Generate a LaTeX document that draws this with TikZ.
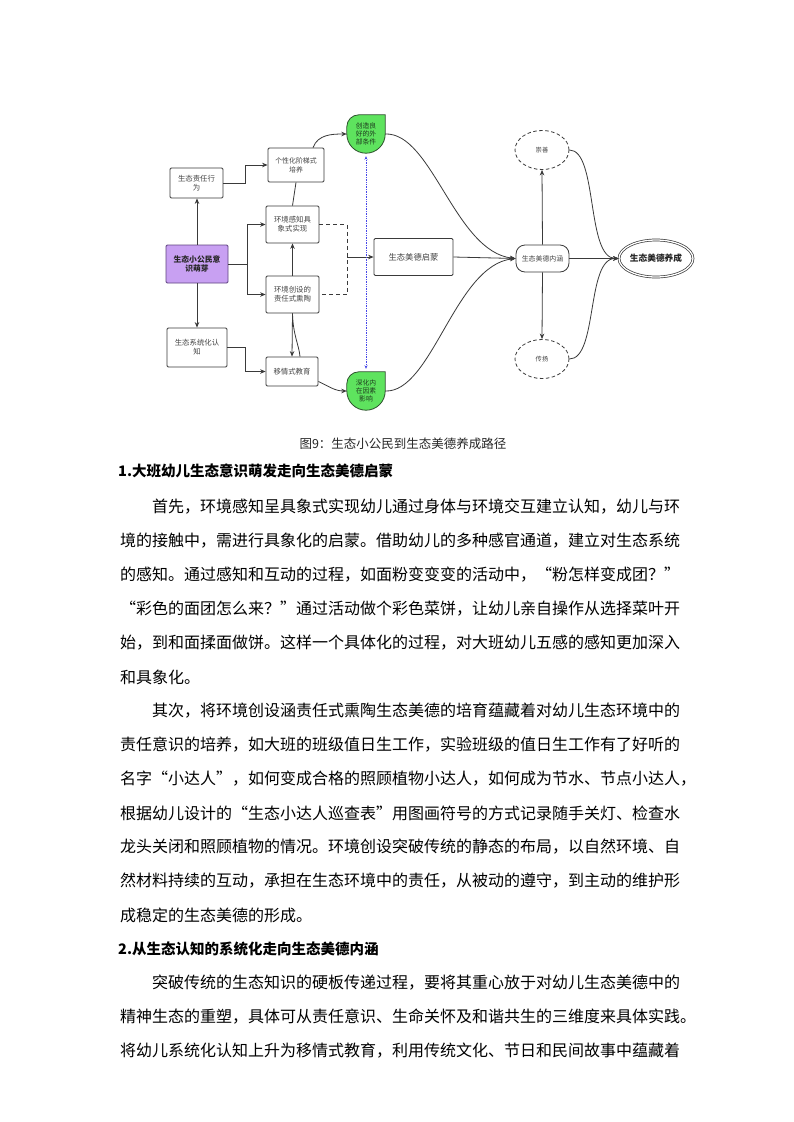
\documentclass[tikz,border=0pt]{standalone}
\usepackage{fontspec}
\setmainfont{Noto Sans CJK SC}
\usetikzlibrary{arrows.meta,shapes.geometric,calc}
\XeTeXlinebreaklocale "zh"
\XeTeXlinebreakskip=0pt plus 4pt minus 1.5pt
\definecolor{ln}{HTML}{3A3A3A}
\definecolor{tx}{HTML}{444444}
\definecolor{purp}{HTML}{C8A0F2}
\definecolor{purpd}{HTML}{5E437F}
\definecolor{grn}{HTML}{5EE35E}
\definecolor{grnd}{HTML}{2C502C}
\definecolor{gtx}{HTML}{1E3A1E}
\definecolor{bdot}{HTML}{4848E8}
\newcommand\fulline[1]{\hbox to 567pt{#1}}
\newcommand\indline[1]{\hbox to 535pt{#1}}
\begin{document}
\begin{tikzpicture}[x=1pt,y=-1pt,
  bx/.style={draw=ln, line width=0.8pt, rounded corners=1.2pt, fill=white, align=center, text=tx, font=\fontsize{7.4}{9.2}\selectfont, inner sep=1pt},
  arr/.style={draw=ln, line width=0.8pt, -{Stealth[length=5.5pt,width=4.5pt]}},
  cl/.style={draw=ln, line width=0.8pt},
  ell/.style={draw=ln, line width=0.8pt, dash pattern=on 3.5pt off 2.5pt, ellipse, minimum width=54pt, minimum height=39pt, inner sep=0pt, text=tx, font=\fontsize{6.3}{7.5}\selectfont},
  gbase/.style={minimum size=38pt, inner sep=0pt},
  gtext/.style={align=center, inner sep=0pt, text=gtx, font=\fontsize{6.8}{8}\selectfont},
  leaf/.style={fill=grn, draw=grnd, line width=0.8pt},
  body/.style={anchor=west, inner sep=0pt, font=\fontsize{16}{20}\selectfont, text=black},
  head/.style={anchor=west, inner sep=0pt, font=\bfseries\fontsize{14.5}{18}\selectfont, text=black}
]
\useasboundingbox[fill=white] (0,0) rectangle (793,1122);

% ---------- nodes ----------
\node[bx, minimum width=53pt, minimum height=30pt] (resp) at (196.5,183) {生态责任行\\为};
\node[bx, minimum width=56pt, minimum height=34pt, font=\fontsize{6.9}{9}\selectfont] (pers) at (296,165) {个性化阶梯式\\培养};
\node[bx, minimum width=53pt, minimum height=37pt] (envp) at (292.5,224.5) {环境感知具\\象式实现};
\node[bx, fill=purp, draw=purpd, minimum width=62pt, minimum height=38pt, font=\bfseries\fontsize{7.8}{9.8}\selectfont, text=black!85] (seed) at (197,264) {生态小公民意\\识萌芽};
\node[bx, minimum width=53pt, minimum height=37pt] (envc) at (292.5,294.5) {环境创设的\\责任式熏陶};
\node[bx, minimum width=60pt, minimum height=39pt] (sys) at (197,347.5) {生态系统化认\\知};
\node[bx, minimum width=52pt, minimum height=29pt] (emp) at (292,371.5) {移情式教育};
\node[bx, minimum width=79pt, minimum height=37pt, font=\fontsize{8.3}{10}\selectfont] (enl) at (413.5,257) {生态美德启蒙};
\node[bx, rounded corners=9pt, minimum width=53pt, minimum height=27pt, font=\fontsize{6.9}{8}\selectfont] (conn) at (542.5,258.5) {生态美德内涵};
\node[ell] (chong) at (542,150) {崇善};
\node[ell] (chuan) at (542,359) {传扬};
\node[draw=ln, ellipse, double, double distance=1.3pt, line width=0.7pt, minimum width=74pt, minimum height=37pt, inner sep=0pt, font=\bfseries\fontsize{8.7}{10}\selectfont, text=black!85] (fin) at (656,258.5) {生态美德养成};

% green leaf nodes
\node[gbase] (g1) at (366,134) {};
\filldraw[leaf] (g1.north east) -- (g1.east) to[out=-90,in=0] (g1.south) to[out=180,in=-90] (g1.west) -- ($(g1.north west)+(0,12)$) to[out=90,in=180] ($(g1.north west)+(12,0)$) -- cycle;
\node[gtext] (g1t) at (g1) {创造良\\好的外\\部条件};
\node[gbase] (g2) at (366,391) {};
\filldraw[leaf] (g2.north east) -- (g2.east) to[out=-90,in=0] (g2.south) to[out=180,in=-90] (g2.west) -- ($(g2.north west)+(0,12)$) to[out=90,in=180] ($(g2.north west)+(12,0)$) -- cycle;
\node[gtext] (g2t) at (g2) {深化内\\在因素\\影响};

% ---------- connectors ----------
\draw[arr] (seed.north) -- (seed.north |- resp.south);
\draw[arr] (seed.south) -- (seed.south |- sys.north);
\coordinate (jx) at (247,264);
\draw[cl] (seed.east) -- (jx);
\draw[arr] (jx) |- (envp.west);
\draw[arr] (jx) |- (envc.west);
\draw[arr] (resp.east) -- ++(22,0) |- (pers.west);
\draw[arr] (sys.east) -- ++(18,0) |- (emp.west);
\draw[arr] (envc.north) -- (envp.south);
\draw[cl] (envp.north) -- (pers.south);
\draw[arr] (envc.south) -- (emp.north);
\draw[cl] (envc.south) .. controls (293,335) and (299,345) .. ($(emp.north)+(8,0)$);
\draw[arr] ($(pers.north)+(17,0)$) to[out=70,in=180] (g1.west);
\draw[arr] ($(emp.east)+(0,10)$) to[out=-25,in=180] (g2.west);
\coordinate (dj) at (347,257);
\draw[cl, dash pattern=on 4pt off 3pt] (envp.east) -- (dj |- envp.east) -- (dj |- envc.east) -- (envc.east);
\draw[arr] (dj) -- (enl.west);
\draw[draw=bdot, line width=0.7pt, densely dotted, {Stealth[length=3.5pt,width=3pt]}-{Stealth[length=3.5pt,width=3pt]}] ($(g1.south)+(0,3)$) -- ($(g2.north)+(0,-3)$);
\draw[arr] (g1.east) .. controls (432,132) and (455,252) .. (conn.west);
\draw[arr] (g2.east) .. controls (432,393) and (455,265) .. (conn.west);
\draw[arr] (enl.east) -- (conn.west);
\draw[arr] (conn.north) -- (chong.south);
\draw[arr] (conn.south) -- (chuan.north);
\draw[arr] (conn.east) -- (fin.west);
\draw[arr] (chong.east) .. controls (598,150) and (586,258) .. (fin.west);
\draw[arr] (chuan.east) .. controls (598,359) and (586,258) .. (fin.west);

% ---------- caption and text ----------
\node[inner sep=0pt, font=\fontsize{12.5}{15}\selectfont, text=black!85] (cap) at (403,444) {图9：生态小公民到生态美德养成路径};
\node[head] (h1) at (118,471) {1.大班幼儿生态意识萌发走向生态美德启蒙};
\node[body] (l1) at (152,507) {\indline{首先，环境感知呈具象式实现幼儿通过身体与环境交互建立认知，幼儿与环}};
\node[body] (l2) at (120,541) {\fulline{境的接触中，需进行具象化的启蒙。借助幼儿的多种感官通道，建立对生态系统}};
\node[body] (l3) at (120,575) {\fulline{的感知。通过感知和互动的过程，如面粉变变变的活动中，“粉怎样变成团？”}};
\node[body] (l4) at (120,609) {\fulline{“彩色的面团怎么来？”通过活动做个彩色菜饼，让幼儿亲自操作从选择菜叶开}};
\node[body] (l5) at (120,643) {\fulline{始，到和面揉面做饼。这样一个具体化的过程，对大班幼儿五感的感知更加深入}};
\node[body] (l6) at (120,677) {和具象化。};
\node[body] (l7) at (152,711) {\indline{其次，将环境创设涵责任式熏陶生态美德的培育蕴藏着对幼儿生态环境中的}};
\node[body] (l8) at (120,745) {\fulline{责任意识的培养，如大班的班级值日生工作，实验班级的值日生工作有了好听的}};
\node[body] (l9) at (120,779) {\fulline{名字“小达人”，如何变成合格的照顾植物小达人，如何成为节水、节点小达人，}};
\node[body] (l10) at (120,813) {\fulline{根据幼儿设计的“生态小达人巡查表”用图画符号的方式记录随手关灯、检查水}};
\node[body] (l11) at (120,847) {\fulline{龙头关闭和照顾植物的情况。环境创设突破传统的静态的布局，以自然环境、自}};
\node[body] (l12) at (120,881) {\fulline{然材料持续的互动，承担在生态环境中的责任，从被动的遵守，到主动的维护形}};
\node[body] (l13) at (120,915) {成稳定的生态美德的形成。};
\node[head] (h2) at (118,949) {2.从生态认知的系统化走向生态美德内涵};
\node[body] (l14) at (152,983) {\indline{突破传统的生态知识的硬板传递过程，要将其重心放于对幼儿生态美德中的}};
\node[body] (l15) at (120,1017) {\fulline{精神生态的重塑，具体可从责任意识、生命关怀及和谐共生的三维度来具体实践。}};
\node[body] (l16) at (120,1051) {\fulline{将幼儿系统化认知上升为移情式教育，利用传统文化、节日和民间故事中蕴藏着}};
\end{tikzpicture}
\end{document}
